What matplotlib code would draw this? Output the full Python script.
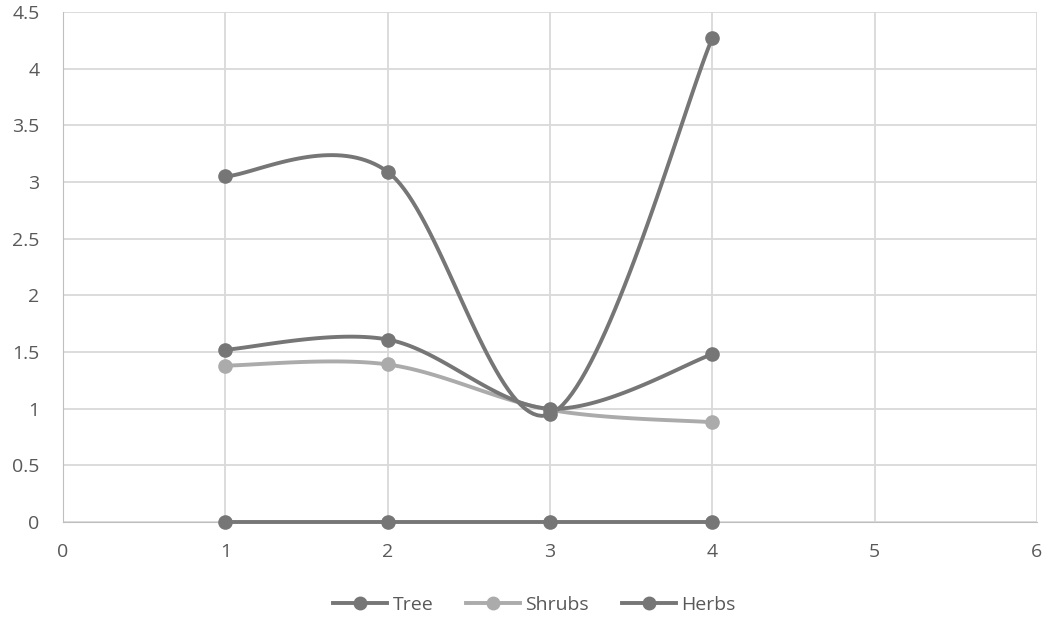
import numpy as np
import matplotlib.pyplot as plt

plt.rcParams['font.family'] = ['Open Sans', 'DejaVu Sans']

# data
x = [1, 2, 3, 4]
tree = [3.05, 3.09, 0.95, 4.27]
shrubs = [1.38, 1.39, 0.99, 0.88]
herbs = [1.52, 1.61, 1.0, 1.48]
baseline = [0, 0, 0, 0]

dark = '#767676'
light = '#ABABAB'


def excel_smooth(xs, ys, n=40):
    # Bezier smoothing the way spreadsheet "smoothed lines" do it
    p = np.column_stack([xs, ys]).astype(float)
    p = np.vstack([p[0], p, p[-1]])
    out = []
    for i in range(1, len(p) - 2):
        p0, p1, p2, p3 = p[i - 1], p[i], p[i + 1], p[i + 2]
        c1 = p1 + (p2 - p0) / 6
        c2 = p2 - (p3 - p1) / 6
        t = np.linspace(0, 1, n)[:, None]
        seg = (1 - t) ** 3 * p1 + 3 * (1 - t) ** 2 * t * c1 + 3 * (1 - t) * t ** 2 * c2 + t ** 3 * p2
        out.append(seg)
    out = np.vstack(out)
    return out[:, 0], out[:, 1]


fig = plt.figure(figsize=(10.48, 6.26), dpi=100)
ax = fig.add_axes([63 / 1048, 104 / 626, 974 / 1048, 510 / 626])

series = [(baseline, dark, None), (shrubs, light, 'Shrubs'), (herbs, dark, 'Herbs'), (tree, dark, 'Tree')]
for ys, col, lab in series:
    sx, sy = excel_smooth(x, ys)
    ax.plot(sx, sy, color=col, lw=2.8, solid_capstyle='round', zorder=3, clip_on=False)
    ax.plot(x, ys, 'o', color=col, ms=9.5, zorder=4, clip_on=False)

# legend handles in the original order
handles = []
for lab, col in [('Tree', dark), ('Shrubs', light), ('Herbs', dark)]:
    h, = ax.plot([], [], '-o', color=col, lw=2.8, ms=9, label=lab)
    handles.append(h)
fig.legend(handles=handles, loc='center', bbox_to_anchor=(0.51, 0.034), ncol=3, frameon=False,
           fontsize=14, handlelength=2.75, columnspacing=1.7, handletextpad=0.3,
           labelcolor='#595959')

ax.set_xlim(0, 6)
ax.set_ylim(0, 4.5)
ax.set_xticks(range(0, 7))
ax.set_yticks(np.arange(0, 4.51, 0.5))
ax.set_yticklabels(['0', '0.5', '1', '1.5', '2', '2.5', '3', '3.5', '4', '4.5'])
ax.grid(color='#D9D9D9', lw=1.3)
ax.set_axisbelow(True)
ax.tick_params(length=0, labelsize=14, labelcolor='#595959')
ax.tick_params(axis='y', pad=17)
ax.tick_params(axis='x', pad=15)
for s in ['top', 'right']:
    ax.spines[s].set_visible(False)
ax.spines['left'].set_color('#BFBFBF')
ax.spines['bottom'].set_color('#BFBFBF')

plt.savefig('out.png', dpi=100)
